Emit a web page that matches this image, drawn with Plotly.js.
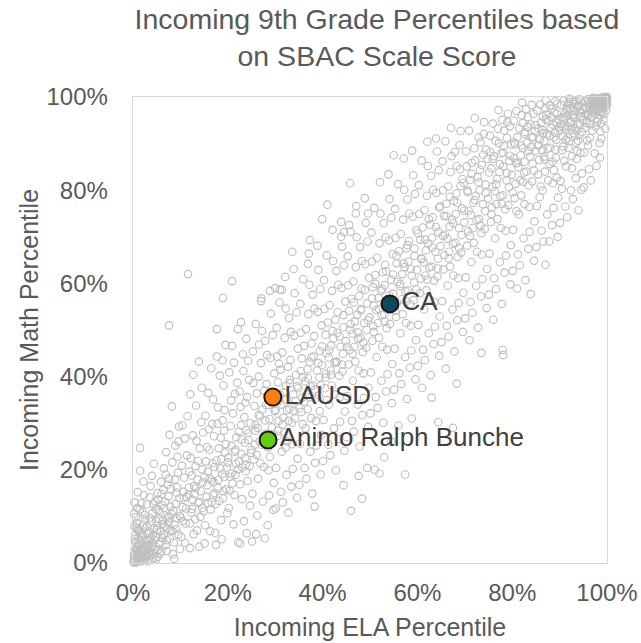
<!DOCTYPE html>
<html>
<head>
<meta charset="utf-8">
<script src="https://cdn.plot.ly/plotly-3.0.1.min.js"></script>
<style>
html,body{margin:0;padding:0;background:#fff;}
#chart{width:641px;height:643px;}
</style>
</head>
<body>
<div id="chart"></div>
<script>
// Each school: [Incoming ELA percentile, Incoming Math percentile]
const schoolPoints = [
[0.3,0.5],[0.5,1.2],[0.8,0.3],[1,2],[1.2,0.8],[0.4,3],[1.5,1.5],[2,0.6],[0.7,4.2],[1.8,3.1],[2.3,2.2],[2.6,0.9],[0.2,1.8],[1.1,5.3],[3,1.4],[3.2,3.6],[2.8,5],[1.6,6.4],[0.9,7.5],[3.6,2.5],[4,4.3],[4.3,1.1],[2.1,8.2],[3.4,6.8],[4.6,3],[4.8,5.6],[0.6,9.8],[1.4,11.5],[2.5,10.3],[3.8,8.9],[4.4,7.4],[0.3,13],[2.9,12.6],[4.1,10.7],[4.9,9],[1,15.2],[3.5,14.1],[2.2,17.5],[4.7,13.2],[0.5,6],[1.3,3.9],[2.4,4.6],[3.1,0.4],[0.1,0.2],[0.9,0.9],[1.7,0.4],[2.7,1.8],[3.9,0.7],[4.5,2],[0.6,2.4],[1.9,2.7],[3.3,4.8],[0.4,5.1],[2,6],[4.2,6.1],[1.2,7.1],[3,7.9],[0.8,8.6],[2.6,9.2],[4.8,11.6],[1.8,12.8],[0.2,10.6],[3.7,16.5],[1.5,19.8],[4.4,21.3],[1.5,24.7],[2.3,14.6],[4,18.7],[0.5,1.6],[1.4,0.6],[2.2,3.4],[3.5,1.7],[4.1,3.7],[0.9,2.9],[2.9,2.9],[1.1,1.1],[3.8,5.4],[1.6,4.5],[4.9,0.8],[0.3,7.8],
[0.2,0.8],[0.6,0.1],[1.3,1.8],[1.9,1.2],[2.5,2.6],[3.3,2.2],[0.8,3.5],[1.5,2.9],[2.8,3.9],[3.7,3.3],[4.5,5],[5.3,2.8],[5.9,4.5],[6.5,6.1],[7.1,4.9],[1.1,6.8],[2.4,7.4],[3.6,9.7],[5,7.1],[6.3,8.4],[7.6,9.6],[2,11],[4.3,12.7],[6,14.8],[7.9,7.1],[0.4,4.5],[1.7,5.6],[3.1,6.4],[0.9,11.8],[5.5,9.5],
[5.2,1.3],[5.5,4],[5.8,6.7],[6,2.5],[6.3,9.1],[6.6,11.8],[6.9,3.8],[7.2,7.4],[7.5,14.3],[7.8,5.2],[8.1,10.5],[8.4,1.9],[8.7,8.2],[9,12.7],[9.3,16.2],[9.6,6.1],[9.9,3],[5.3,13.6],[5.9,17.4],[6.5,20.3],[7,23.8],[7.6,18.1],[8.3,21.6],[8.9,25.2],[9.5,19.4],[5.1,8],[6.2,5.5],[6.8,13.1],[7.4,10],[8,15.9],[8.6,4.4],[9.2,9.6],[9.8,13.9],[5.6,10.9],[6.4,15.7],[7.1,2.6],[7.9,12.1],[8.8,17.9],[9.4,22.8],[7.7,27.5],[9.7,29.3],[8.2,33.6],[7.6,51],[6.7,7.9],[5.4,11.4],[9.1,7.3],[8.5,11.2],[6.1,12.5],[7.3,16.8],[9.9,10.1],[5.7,2],[8.7,0.9],[6.9,19],[9.2,15.1],[7.5,8.8],[5.2,15],[8.3,6.9],[9.6,26.1],
[10.2,5.6],[10.5,12],[10.8,18.3],[11.1,8.5],[11.4,23.1],[11.7,14.7],[12,3.2],[12.3,10.8],[12.6,27.4],[12.9,16.5],[13.2,20.8],[13.5,7],[13.8,12.9],[14.1,24.6],[14.4,30.2],[14.7,17.3],[10.3,20.9],[10.9,26.7],[11.5,31.5],[12.1,36.2],[12.7,40.4],[13.3,33.8],[13.9,43.2],[14.5,37.6],[11.6,62],[10.6,15.3],[11.2,11.7],[11.9,19.6],[12.5,13.6],[13.1,9.4],[13.7,21.9],[14.3,15.4],[14.9,11.1],[10.1,9.7],[12.2,22.5],[13.4,26.2],[14.6,20.1],[11,4.3],[12.8,6.2],[14,3.5],[10.4,29.5],[13.6,17.9],[11.8,16.2],[14.8,28],[12.4,18.8],[10.7,13.9],[13,14.8],[14.2,9.9],
[15.2,8.1],[15.5,14.2],[15.8,19.6],[16.1,24.3],[16.4,11.5],[16.7,29.8],[17,17.4],[17.3,6.5],[17.6,22],[17.9,33.4],[18.2,13.3],[18.5,26.9],[18.8,19.1],[19.1,38.1],[19.4,23.7],[19.7,15.8],[15.3,31.6],[15.9,36.5],[16.5,41.8],[17.1,27.2],[17.7,44.3],[18.3,40.2],[18.9,30.6],[19.5,46.8],[15.6,24.9],[16.2,18.2],[16.8,21.4],[17.4,12.6],[18,17.8],[18.6,9.2],[19.2,28.4],[19.8,20.5],[15.1,4.2],[16.3,6.8],[17.5,3.9],[18.7,5.1],[19.9,10.7],[15.7,16.7],[16.9,35.1],[18.1,24.6],[19.3,32.8],[16,28.7],[17.8,29.9],[19.6,25.5],[15.4,21.8],[17.2,15],[18.4,20.3],[19,13.9],[16.6,13.1],[18.9,43.5],
[20.2,11.8],[20.5,18.5],[20.8,25.2],[21.1,32.1],[21.4,14.6],[21.7,21.3],[22,38.7],[22.3,28.2],[22.6,16.9],[22.9,23.4],[23.2,44.8],[23.5,31.3],[23.8,19.7],[24.1,35.6],[24.4,26.4],[24.7,12.3],[20.3,40.9],[20.9,46.6],[21.5,36.3],[22.1,50.2],[22.7,33.5],[23.3,41.2],[23.9,48.1],[24.5,39.3],[20.6,29.4],[21.2,8.3],[21.8,27],[22.4,21.8],[23,13.7],[23.6,25.8],[24.2,17.6],[24.8,30],[20.1,22.6],[21,17.1],[22.2,4.5],[22.6,4.2],[23.4,9],[24,6.4],[24.6,20.8],[21.6,24.3],[22.8,29.6],[23.7,34.4],[20.7,34.9],[24.3,43.4],[21.3,43],[23.1,20.5],[22.5,36.8],[24.9,23.6],[20.4,15.5],[23.9,28.5],
[25.2,14.9],[25.5,22.2],[25.8,29.7],[26.1,36.4],[26.4,18.1],[26.7,26.1],[27,42.9],[27.3,33],[27.6,20.6],[27.9,47.7],[28.2,38.4],[28.5,24.8],[28.8,30.9],[29.1,53.5],[29.4,35.3],[29.7,17.2],[25.3,45.4],[25.9,51.3],[26.5,40],[27.1,56.8],[27.7,37],[28.3,44.6],[28.9,58.4],[29.5,48.9],[25.6,33.7],[26.2,10.2],[26.8,31.5],[27.4,13.2],[28,27.8],[28.6,19.9],[29.2,25.9],[29.8,40.7],[25.1,4.6],[26,6.2],[27.8,5.3],[28.4,8.1],[29.6,11.4],[25.7,25.4],[26.9,21.4],[28.1,33.9],[29.3,29.1],[27.2,49.8],[25.4,38.6],[29,44],[26.3,29],[28.7,14.5],[27.5,27.3],[29.9,32.6],[26.6,46.9],[28.9,22.8],
[30.2,20.4],[30.5,27.3],[30.8,34.8],[31.1,41.5],[31.4,23.9],[31.7,31.2],[32,48.3],[32.3,38],[32.6,26.1],[32.9,52.6],[33.2,43.6],[33.5,30.1],[33.8,36.2],[34.1,57.9],[34.4,40.4],[34.7,22.4],[30.3,50.5],[30.9,55.9],[31.5,45.2],[32.1,61.4],[32.7,42.1],[33.3,49.6],[33.9,63.1],[34.5,53.8],[30.6,38.8],[31.2,15.3],[31.8,36.6],[32.4,18.9],[33,33.1],[33.6,25.5],[34.2,31],[34.8,46],[30.1,11.7],[31.6,13],[32.8,10.8],[33.4,16.4],[34.6,14],[30.7,30.5],[31.9,28],[33.1,39.3],[34.3,34.7],[32.2,54.6],[30.4,44.3],[34,48.8],[31.3,34],[33.7,20.2],[32.5,32.8],[34.9,37.5],[31,58.7],[33.6,66.8],[32.2,24.8],[30.8,42.7],
[35.2,25.6],[35.5,32.4],[35.8,39.9],[36.1,46.6],[36.4,28.9],[36.7,36.2],[37,53.4],[37.3,43.1],[37.6,31.1],[37.9,57.6],[38.2,48.7],[38.5,35.2],[38.8,41.3],[39.1,62.9],[39.4,45.5],[39.7,27.5],[35.3,55.6],[35.9,60.9],[36.5,50.2],[37.1,66.4],[37.7,47.1],[38.3,54.6],[38.9,68.1],[39.5,58.8],[35.6,43.9],[36.2,20.4],[36.8,41.6],[37.4,23.9],[38,38.1],[38.6,30.5],[39.2,36],[39.8,51],[35.1,16.8],[36.6,18.1],[37.8,14.9],[38.4,21.5],[39.6,19],[35.7,35.5],[36.9,33],[38.1,44.3],[39.3,39.8],[37.2,59.7],[35.4,49.4],[39,53.9],[36.3,39],[38.7,25.2],[37.5,37.9],[39.9,42.5],[39.9,73.8],[38.3,12.1],[36.9,64.2],[35.8,29.8],[39.4,32.6],
[40.2,30.7],[40.5,37.5],[40.8,45],[41.1,51.6],[41.4,34],[41.7,41.3],[42,58.4],[42.3,48.2],[42.6,36.2],[42.9,62.7],[43.2,53.8],[43.5,40.2],[43.8,46.4],[44.1,67.9],[44.4,50.6],[44.7,32.5],[40.3,60.7],[40.9,66],[41.5,55.3],[42.1,71.5],[42.7,52.2],[43.3,59.7],[43.9,73.2],[44.5,63.9],[40.6,49],[41.2,25.4],[41.8,46.7],[42.4,28.9],[43,43.2],[43.6,35.6],[44.2,41.1],[44.8,56.1],[40.1,21.9],[41.6,23.1],[42.8,19.9],[43.4,26.6],[44.6,24.1],[40.7,40.6],[41.9,38.1],[43.1,49.4],[44.3,44.9],[42.2,64.8],[40.4,54.5],[44,59],[41.3,44.1],[43.7,30.3],[42.5,43],[44.9,47.6],[41,76.9],[44.4,16.7],[43.9,70],[40.9,35],
[45.2,35.8],[45.5,42.6],[45.8,50.1],[46.1,56.7],[46.4,39.1],[46.7,46.4],[47,63.5],[47.3,53.3],[47.6,41.3],[47.9,67.8],[48.2,58.9],[48.5,45.3],[48.8,51.5],[49.1,73],[49.4,55.7],[49.7,37.6],[45.3,65.8],[45.9,71.1],[46.5,60.4],[47.1,76.6],[47.7,57.3],[48.3,64.8],[48.9,78.3],[49.5,69],[45.6,54.1],[46.2,30.5],[46.8,51.8],[47.4,34],[48,48.3],[48.6,40.7],[49.2,46.2],[49.8,61.2],[45.1,27],[46.6,28.2],[47.8,25],[48.4,31.7],[49.6,29.2],[45.7,45.7],[46.9,43.2],[48.1,54.5],[49.3,50],[47.2,69.9],[45.4,59.6],[49,64.1],[46.3,49.2],[48.7,35.4],[47.5,48.1],[49.9,52.7],[45.8,81.5],[46,11.2],[48.3,13.8],[49.4,20.4],[47.6,18.7],
[50.2,40.9],[50.5,47.7],[50.8,55.2],[51.1,61.8],[51.4,44.2],[51.7,51.5],[52,68.6],[52.3,58.4],[52.6,46.4],[52.9,72.9],[53.2,64],[53.5,50.4],[53.8,56.6],[54.1,78.1],[54.4,60.8],[54.7,42.7],[50.3,70.9],[50.9,76.2],[51.5,65.5],[52.1,81.7],[52.7,62.4],[53.3,69.9],[53.9,83.4],[54.5,74.1],[50.6,59.2],[51.2,35.6],[51.8,56.9],[52.4,39.1],[53,53.4],[53.6,45.8],[54.2,51.3],[54.8,66.3],[50.1,32.1],[51.6,33.3],[52.8,30.1],[53.4,36.8],[54.6,34.3],[50.7,50.8],[51.9,48.3],[53.1,59.6],[54.3,55.1],[52.2,75],[50.4,64.7],[54,69.2],[51.3,54.3],[53.7,40.5],[52.5,53.2],[54.9,57.8],[55,87.5],[51,20],[53,22.7],[52,19.2],[54.5,26],
[55.2,46],[55.5,52.8],[55.8,60.3],[56.1,66.9],[56.4,49.3],[56.7,56.6],[57,73.7],[57.3,63.5],[57.6,51.5],[57.9,78],[58.2,69.1],[58.5,55.5],[58.8,61.7],[59.1,83.2],[59.4,65.9],[59.7,47.8],[55.3,76],[55.9,81.3],[56.5,70.6],[57.1,86.8],[57.7,67.5],[58.3,75],[58.9,88.5],[59.5,79.2],[55.6,64.3],[56.2,40.7],[56.8,62],[57.4,44.2],[58,58.5],[58.6,50.9],[59.2,56.4],[59.8,71.4],[55.1,37.2],[56.6,38.4],[57.8,35.2],[58.4,41.9],[59.6,39.4],[55.7,55.9],[56.9,53.4],[58.1,64.7],[59.3,60.2],[57.2,80.1],[55.4,69.8],[59,74.3],[56.3,59.4],[58.7,45.6],[57.5,58.3],[59.9,62.9],[57.4,19],[56,29.5],[58.8,31],
[60.2,51.1],[60.5,57.9],[60.8,65.4],[61.1,72],[61.4,54.4],[61.7,61.7],[62,78.8],[62.3,68.6],[62.6,56.6],[62.9,83.1],[63.2,74.2],[63.5,60.6],[63.8,66.8],[64.1,88.3],[64.4,71],[64.7,52.9],[60.3,81.1],[60.9,86.4],[61.5,75.7],[62.1,90.4],[62.7,72.6],[63.3,80.1],[63.9,91.1],[64.5,84.3],[60.6,69.4],[61.2,45.8],[61.8,67.1],[62.4,49.3],[63,63.6],[63.6,56],[64.2,61.5],[64.8,76.5],[60.1,42.3],[61.6,43.5],[62.8,40.3],[63.4,47],[64.6,44.5],[60.7,61],[61.9,58.5],[63.1,69.8],[64.3,65.3],[62.2,85.2],[60.4,74.9],[64,79.4],[61.3,64.5],[63.7,50.7],[62.5,63.4],[64.9,68],[63,35.5],[61,37.6],[64.4,30.2],
[65.2,56.2],[65.5,63],[65.8,70.5],[66.1,77.1],[66.4,59.5],[66.7,66.8],[67,83.9],[67.3,73.7],[67.6,61.7],[67.9,88.2],[68.2,79.3],[68.5,65.7],[68.8,71.9],[69.1,92.7],[69.4,76.1],[69.7,58],[65.3,86.2],[65.9,90.5],[66.5,80.8],[67.1,93.4],[67.7,77.7],[68.3,85.2],[68.9,89.7],[69.5,82.4],[65.6,74.5],[66.2,50.9],[66.8,72.2],[67.4,54.4],[68,68.7],[68.6,61.1],[69.2,66.6],[69.8,81.6],[65.1,47.4],[66.6,48.6],[67.8,45.4],[68.4,52.1],[69.6,49.6],[65.7,66.1],[66.9,63.6],[68.1,74.9],[69.3,70.4],[67.2,87.3],[65.4,80],[69,84.5],[66.3,69.6],[68.7,55.8],[67.5,68.5],[69.9,73.1],[67.5,29],[66,41.7],[68.3,38.5],
[70.2,61.3],[70.5,68.1],[70.8,75.6],[71.1,82.2],[71.4,64.6],[71.7,71.9],[72,89],[72.3,78.8],[72.6,66.8],[72.9,91.3],[73.2,84.4],[73.5,70.8],[73.8,77],[74.1,94.6],[74.4,81.2],[74.7,63.1],[70.3,88.3],[70.9,92.8],[71.5,85.9],[72.1,95.5],[72.7,82.8],[73.3,90.3],[73.9,87.6],[74.5,88.7],[70.6,79.6],[71.2,56],[71.8,77.3],[72.4,59.5],[73,73.8],[73.6,66.2],[74.2,71.7],[74.8,86.7],[70.1,52.5],[71.6,53.7],[72.8,50.5],[73.4,57.2],[74.6,54.7],[70.7,71.2],[71.9,68.7],[73.1,80],[74.3,75.5],[72.2,86.4],[70.4,85.1],[74,92.1],[71.3,74.7],[73.7,60.9],[72.5,73.6],[74.9,78.2],[71,47.8],[73.5,45.1],
[75.2,66.4],[75.5,73.2],[75.8,80.7],[76.1,87.3],[76.4,69.7],[76.7,77],[77,93.2],[77.3,83.9],[77.6,71.9],[77.9,95.1],[78.2,89.5],[78.5,75.9],[78.8,82.1],[79.1,96.4],[79.4,86.3],[79.7,68.2],[75.3,91.7],[75.9,94.3],[76.5,90.6],[77.1,97.2],[77.7,87.9],[78.3,92.8],[78.9,91.2],[79.5,93.7],[75.6,84.7],[76.2,61.1],[76.8,82.4],[77.4,64.6],[78,78.9],[78.6,71.3],[79.2,76.8],[79.8,89.8],[75.1,57.6],[76.6,58.8],[77.8,55.6],[78.4,62.3],[79.6,59.8],[75.7,76.3],[76.9,73.8],[78.1,85.1],[79.3,80.6],[77.2,90.1],[75.4,88.2],[79,94.6],[76.3,79.8],[78.7,66],[77.5,78.7],[79.9,83.3],[78,45.7],[78.1,44.6],[76,52.2],
[80.2,71.5],[80.5,78.3],[80.8,85.8],[81.1,91.4],[81.4,74.8],[81.7,82.1],[82,96.1],[82.3,89],[82.6,77],[82.9,97.4],[83.2,93.6],[83.5,81],[83.8,87.2],[84.1,98.3],[84.4,91.4],[84.7,73.3],[80.3,94.9],[80.9,97],[81.5,93.3],[82.1,98.8],[82.7,92.5],[83.3,95.7],[83.9,94.1],[84.5,96.4],[80.6,89.8],[81.2,66.2],[81.8,87.5],[82.4,69.7],[83,84],[83.6,76.4],[84.2,81.9],[84.8,92.6],[80.1,62.7],[81.6,63.9],[82.8,60.7],[83.4,67.4],[84.6,64.9],[80.7,81.4],[81.9,78.9],[83.1,90.2],[84.3,85.7],[82.2,94.4],[80.4,86.9],[84,89.3],[81.3,84.9],[83.7,71.1],[82.5,83.8],[84.9,88.4],[81,58.9],[83.9,57.7],[82.6,86.1],[80.9,75.5],
[85.2,76.6],[85.5,83.4],[85.8,90.9],[86.1,94.5],[86.4,79.9],[86.7,87.2],[87,97.6],[87.3,92.1],[87.6,82.1],[87.9,98.2],[88.2,95.7],[88.5,86.1],[88.8,91.3],[89.1,99.1],[89.4,94.5],[89.7,78.4],[85.3,97.1],[85.9,98.4],[86.5,95.8],[87.1,99.3],[87.7,94.9],[88.3,97.5],[88.9,96.7],[89.5,98.6],[85.6,93.2],[86.2,71.3],[86.8,90.6],[87.4,74.8],[88,89.1],[88.6,81.5],[89.2,87],[89.8,95.2],[85.1,67.8],[86.6,69],[87.8,69],[87,64],[88.4,72.5],[89.6,70],[85.7,86.5],[86.9,84],[88.1,93.3],[89.3,90.8],[87.2,96.2],[85.4,89.7],[89,92.4],[86.3,88.6],[88.7,76.2],[87.5,88.9],[89.9,93.5],[86,80.8],[88.8,84.3],[87.9,85.6],[85.8,78.5],[89.4,82.7],[86.5,92.2],
[90.2,82],[90.5,88.6],[90.8,93.5],[91.1,96.6],[91.4,85.1],[91.7,91.2],[92,98.4],[92.3,94.8],[92.6,87.3],[92.9,99],[93.2,97.1],[93.5,90.2],[93.8,94.1],[94.1,99.5],[94.4,96.9],[94.7,83.6],[90.3,98.3],[90.9,99.2],[91.5,97.7],[92.1,99.6],[92.7,96.1],[93.3,98.5],[93.9,97.8],[94.5,99.3],[90.6,95.6],[91.2,76.5],[91.8,93.7],[92.4,80],[93,92.2],[93.6,86.7],[94.2,91.9],[94.8,97.3],[90.1,73],[91.6,74.2],[92.8,78.1],[93.4,82.6],[94,75.7],[94.6,80.1],[90.7,91.6],[91.9,89.1],[93.1,95.4],[94.3,94.1],[92.2,97.5],[90.4,94.2],[94,98.1],[91.3,93.1],[93.7,88.4],[92.5,92.9],[94.9,95.1],[91,86.3],[93.9,90.6],[92.6,84.7],[90.8,89.4],[94.4,88],[91.6,95.9],[93.3,93.2],[92,90.5],[90.5,80.3],[94.7,92.5],[93.6,99.1],[91.9,98.9],[92.9,95.7],
[95.2,88.1],[95.5,93.4],[95.8,96.5],[96.1,98.6],[96.4,91.2],[96.7,95.8],[97,99.2],[97.3,97.4],[97.6,93.7],[97.9,99.6],[98.2,98.3],[98.5,96.1],[98.8,97.9],[99.1,99.7],[99.4,98.9],[99.7,99.4],[95.3,99.1],[95.9,99.5],[96.5,99],[97.1,99.8],[97.7,98.7],[98.3,99.3],[98.9,99.1],[99.5,99.9],[95.6,97.6],[96.2,84.5],[96.8,96.8],[97.4,87.9],[98,95.3],[98.6,92.6],[99.2,96.7],[99.8,98.5],[95.1,80.6],[96.6,82.1],[97.8,85.2],[98.4,90.1],[98.5,87],[99.6,93.2],[95.7,94.4],[96.9,92.8],[98.1,97.1],[99.3,95.2],[97.2,98.1],[95.4,96.2],[99,98.2],[96.3,97.2],[98.7,94.3],[97.5,96.3],[99.9,99.8],[96,89.6],[98.8,91.1],[97.9,94.6],[95.8,90.7],[99.4,97.6],[96.5,94.1],[100,100],[99.8,99.6],[99.5,99.2],[99.1,98.6],[98.9,99.8],[99.7,100],[98.4,99.7],[98.2,99.5],[99.3,100],[97.6,99.4],[97.3,98.9],[96.9,99.6],[99.9,99.1],[100,99.5],[99.6,98.8],[98.6,98.9],[97.9,97.8],[99.2,99.4],[98.1,98.8],[96.4,97.9],[97.1,97.3],[99.8,97.2],[100,98.3],[99.4,96.3],[98.7,96.9],
[37.3,69.3],[44.5,71],[45.6,72.5],[47,75],[49.6,75],[30,59],[31.4,58.6],[20.9,60.5],[19,56.9],[27,56.2],[17.7,50.2],[22.8,51.7],
[10.5,9],[11.3,14.2],[12.4,11.6],[13.2,16],[14,13.1],[15.1,18.4],[15.8,12.9],[16.6,17.7],[17.2,20.6],[17.9,16.1],[18.6,22.3],[19.3,18.5],[20,21.6],[20.8,19.2],[21.5,23.9],[22.1,20.1],[22.9,26.5],[23.6,22.5],[24.3,27.9],[25,24.3],[25.8,28.4],[26.5,31.7],[27.2,25.4],[27.9,30.6],[28.6,33.9],[29.4,27.6],[30.1,32.9],[30.9,36.2],[31.6,29.7],[32.4,35.1],[33.1,38.6],[33.9,32.7],[34.6,37.9],[35.4,41.2],[36.1,34.6],[36.9,39.7],[37.6,44.1],[38.4,37.2],[39.1,42.9],[39.9,46.5],[40.6,39.8],[41.4,45.7],[42.1,49.8],[42.9,43.1],[43.6,48.6],[44.4,53.2],[45.1,46.4],[45.9,51.3],[46.6,55.9],[47.4,49.5],[48.1,54.2],[48.9,58.6],[49.6,52.1],[50.4,56.8],[51.1,59.9],[51.9,54.5],[52.6,58.8],[53.4,62.6],[54.1,57.4],[54.9,61.9],[55.6,65.9],[56.4,59.9],[57.1,64.3],[57.9,68.2],[58.6,63.1],[59.4,67.5],[60.1,70.7],[60.9,65.2],[61.6,69.4],[62.4,73.8],[63.1,67.7],[63.9,72.1],[64.6,76.3],[65.4,70.2],[66.1,74.4],[66.9,78.6],[67.6,72.9],[68.4,77.3],[69.1,80.9],[69.9,75.6],[70.6,79.9],[71.4,83.5],[72.1,77.9],[72.9,81.7],[73.6,85.4],[74.4,79.4],[75.1,83.8],[75.9,86.7],[76.6,81.3],[77.4,85.6],[78.1,88.1],[78.9,83.7],[79.6,87.4],[80.4,90.2],[81.1,85.9],[81.9,89.6],[82.6,92.1],[83.4,88.4],[84.1,91.3],[84.9,94],[85.6,89.6],[86.4,92.9],[87.1,95.2],[87.9,91.7],[88.6,94.1],[89.4,96.4],[90.1,92.8],[90.9,95.4],[91.6,97.2],[92.4,94.6],[93.1,96.2],[93.9,98.2],[94.6,95.9],[95.4,97.9],[96.1,96.1],[96.9,98.4],[97.6,97.1],[98.4,98.5],
[12,8.5],[14.6,11.8],[16.9,14.6],[19.1,15.4],[21.6,18.9],[23.8,21.1],[26.1,23.2],[28.3,25.9],[30.6,28.4],[32.8,30.5],[35.1,33.2],[37.3,35.6],[39.6,38.1],[41.8,40.4],[44.1,42.6],[46.3,44.9],[48.6,47.3],[50.8,49.6],[53.1,51.8],[55.3,54.1],[57.6,56.2],[59.8,58.7],[62.1,60.8],[64.3,63.2],[66.6,65.4],[68.8,67.6],[71.1,70.2],[73.3,72.4],[75.6,74.9],[77.8,77.1],[80.1,79.5],[82.3,81.8],[84.6,84.2],[86.8,86.6],[89.1,88.7],[91.3,90.8],[93.6,92.7],[95.8,94.9]
];
const elaPct = schoolPoints.map(p => p[0]);
const mathPct = schoolPoints.map(p => p[1]);

// Highlighted entities
const highlightNames = ['CA', 'LAUSD', 'Animo Ralph Bunche'];
const highlightEla = [54.2, 29.5, 28.5];
const highlightMath = [55.6, 35.6, 26.4];
const highlightColors = ['#0e4a5c', '#ff7f0e', '#66cc11'];

const tickVals = [0, 20, 40, 60, 80, 100];
const tickText = ['0%', '20%', '40%', '60%', '80%', '100%'];

const txt = '#595959';
const fontFam = 'Liberation Sans, Arial, sans-serif';

const traces = [
  {
    type: 'scatter', mode: 'markers',
    x: elaPct, y: mathPct,
    cliponaxis: false,
    marker: {symbol: 'circle-open', size: 7.5, color: '#bfbfbf', line: {width: 1.15, color: '#bfbfbf'}},
    hoverinfo: 'x+y', showlegend: false
  },
  {
    type: 'scatter', mode: 'markers+text',
    x: highlightEla, y: highlightMath, text: highlightNames,
    textposition: 'middle right',
    textfont: {family: fontFam, size: 26, color: '#404040'},
    cliponaxis: false,
    marker: {size: 17, color: highlightColors, line: {width: 2, color: '#1a1a1a'}},
    showlegend: false
  }
];

const axisCommon = {
  range: [0, 100], tickvals: tickVals, ticktext: tickText,
  showgrid: false, zeroline: false, showline: true, mirror: true,
  linecolor: '#d9d9d9', linewidth: 1.3, ticks: '',
  tickfont: {family: fontFam, size: 24, color: txt},
  fixedrange: true
};

const layout = {
  width: 641, height: 643,
  margin: {l: 133, r: 34, t: 97, b: 80},
  paper_bgcolor: '#ffffff', plot_bgcolor: '#ffffff',
  title: {
    text: 'Incoming 9th Grade Percentiles based<br>on SBAC Scale Score',
    font: {family: fontFam, size: 28.5, color: txt},
    xref: 'container', x: 0.588, xanchor: 'center',
    yref: 'container', y: 0.955, yanchor: 'top'
  },
  xaxis: Object.assign({}, axisCommon, {
    ticklabelstandoff: 8,
    title: {text: 'Incoming ELA Percentile', font: {family: fontFam, size: 25, color: txt}, standoff: 13}
  }),
  yaxis: Object.assign({}, axisCommon, {
    ticklabelstandoff: 19,
    title: {text: 'Incoming Math Percentile', font: {family: fontFam, size: 25, color: txt}, standoff: 0}
  }),
  showlegend: false
};

Plotly.newPlot('chart', traces, layout, {displayModeBar: false, staticPlot: true});
</script>
</body>
</html>
